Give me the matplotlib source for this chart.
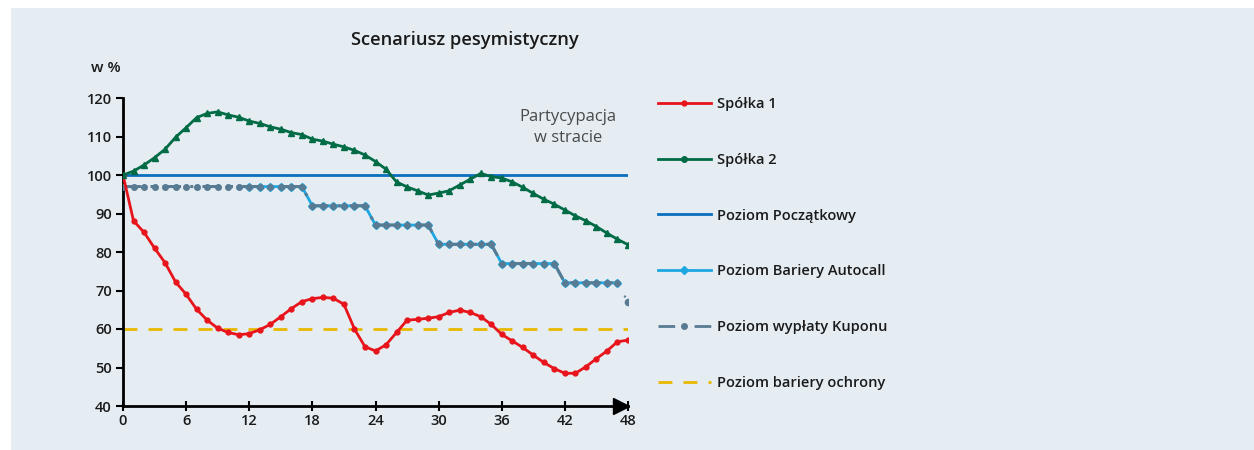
import matplotlib
matplotlib.use("Agg")
import matplotlib.pyplot as plt
from matplotlib.patches import Rectangle
from matplotlib.lines import Line2D

plt.rcParams['font.family'] = ['Open Sans', 'DejaVu Sans']

months = list(range(0, 49))
spolka1 = [100, 88.1, 85.1, 81.0, 77.2, 72.2, 69.0, 65.1, 62.3, 60.2, 59.1, 58.5, 58.8,
           59.8, 61.2, 63.2, 65.3, 67.1, 67.9, 68.2, 68.0, 66.4, 60.0, 55.4, 54.3,
           55.9, 59.1, 62.3, 62.5, 62.8, 63.2, 64.3, 64.9, 64.3, 63.2, 61.2, 58.6,
           56.9, 55.2, 53.2, 51.3, 49.7, 48.5, 48.5, 50.2, 52.3, 54.3, 56.7, 57.1]
spolka2 = [100, 101.0, 102.6, 104.5, 106.7, 109.8, 112.3, 114.9, 116.0, 116.4, 115.6,
           115.0, 114.0, 113.4, 112.5, 111.9, 111.0, 110.5, 109.3, 108.8, 108.0, 107.3,
           106.4, 105.2, 103.5, 101.5, 98.2, 96.9, 95.9, 94.8, 95.3, 95.9, 97.4, 98.9,
           100.4, 99.6, 99.2, 98.2, 96.8, 95.2, 93.7, 92.4, 90.9, 89.4, 88.1, 86.6,
           84.9, 83.3, 81.9]
poziom_poczatkowy = [100] * 49
autocall_months = list(range(12, 48))
autocall = [97] * 6 + [92] * 6 + [87] * 6 + [82] * 6 + [77] * 6 + [72] * 6
kupon_months = list(range(0, 48))
kupon = [97] * 18 + [92] * 6 + [87] * 6 + [82] * 6 + [77] * 6 + [72] * 6
kupon_end_months = [47, 48]
kupon_end = [72, 67]
bariera_ochrony = [60] * 49

labels = ["Spółka 1", "Spółka 2", "Poziom Początkowy", "Poziom Bariery Autocall",
          "Poziom wypłaty Kuponu", "Poziom bariery ochrony"]
x_ticks = [0, 6, 12, 18, 24, 30, 36, 42, 48]
y_ticks = [40, 50, 60, 70, 80, 90, 100, 110, 120]

c_red = '#e8141b'
c_green = '#006b45'
c_blue = '#0a6fbf'
c_light = '#1ea7e1'
c_kupon = '#587b93'
c_yellow = '#e8b800'
bg = '#e5edf3'

fig = plt.figure(figsize=(12.54, 4.5), dpi=100, facecolor='white')
fig.patches.append(Rectangle((11 / 1254, 0), 1 - 11 / 1254, 1 - 8 / 450,
                             transform=fig.transFigure, facecolor=bg,
                             edgecolor='none', zorder=-10))
ax = fig.add_axes([123 / 1254, 1 - 406 / 450, (628 - 123) / 1254, (406 - 98) / 450])
ax.set_facecolor('none')

ax.plot(months, bariera_ochrony, color=c_yellow, lw=2, dashes=(5, 4), zorder=2)
ax.plot(months, poziom_poczatkowy, color=c_blue, lw=2, zorder=3)
ax.plot(autocall_months, autocall, color=c_light, lw=2, marker='D', ms=4.5, zorder=4)
ax.plot(kupon_months, kupon, color=c_kupon, lw=2.2, dashes=(6, 3, 1, 3), marker='o', ms=4, zorder=5)
ax.plot(kupon_end_months, kupon_end, color=c_kupon, lw=1.5, dashes=(1, 6), zorder=5)
ax.plot([48], [67], color=c_kupon, marker='o', ms=4.5, ls='none', zorder=5)
ax.plot(months, spolka1, color=c_red, lw=2, marker='o', ms=3.5, zorder=6)
ax.plot(months, spolka2, color=c_green, lw=2, marker='^', ms=5, zorder=6)

ax.set_xlim(0, 48)
ax.set_ylim(40, 120)
ax.set_xticks(x_ticks)
ax.set_yticks(y_ticks)
for s in ['top', 'right']:
    ax.spines[s].set_visible(False)
for s in ['left', 'bottom']:
    ax.spines[s].set_linewidth(2)
    ax.spines[s].set_color('black')
ax.tick_params(axis='x', direction='inout', length=7, width=1.5, labelsize=10.5, pad=2)
ax.tick_params(axis='y', direction='out', length=5, width=1.5, labelsize=10.5, pad=3)
for t in ax.get_xticklabels() + ax.get_yticklabels():
    t.set_fontweight('semibold')
    t.set_color('#1a1a1a')
ax.plot([47.3], [40], marker='>', color='black', ms=11, clip_on=False, zorder=10)

fig.text(465 / 1254, 1 - 40 / 450, "Scenariusz pesymistyczny", ha='center', va='center',
         fontsize=13.2, fontweight='semibold', color='#1a1a1a')
fig.text(106 / 1254, 1 - 68 / 450, "w %", ha='center', va='center',
         fontsize=11, fontweight='semibold', color='#1a1a1a')
ax.text(42.3, 112.4, "Partycypacja\nw stracie", ha='center', va='center',
        fontsize=12, color='#4a4a4a', linespacing=1.45)

handles = [
    Line2D([], [], color=c_red, lw=2, marker='o', ms=3.5),
    Line2D([], [], color=c_green, lw=2, marker='o', ms=4),
    Line2D([], [], color=c_blue, lw=2),
    Line2D([], [], color=c_light, lw=2, marker='D', ms=4),
    Line2D([], [], color=c_kupon, lw=2, dashes=(6, 3, 1, 3), marker='o', ms=4),
    Line2D([], [], color=c_yellow, lw=2, dashes=(5, 4)),
]
leg = fig.legend(handles, labels, loc='upper left', bbox_to_anchor=(645 / 1254, 1 - 84 / 450),
                 frameon=False, handlelength=3.6, handletextpad=0.45, labelspacing=2.86,
                 numpoints=1, prop={'size': 10.5, 'weight': 'semibold'})
for t in leg.get_texts():
    t.set_color('#1a1a1a')

fig.savefig('out.png', dpi=100, facecolor=fig.get_facecolor())
